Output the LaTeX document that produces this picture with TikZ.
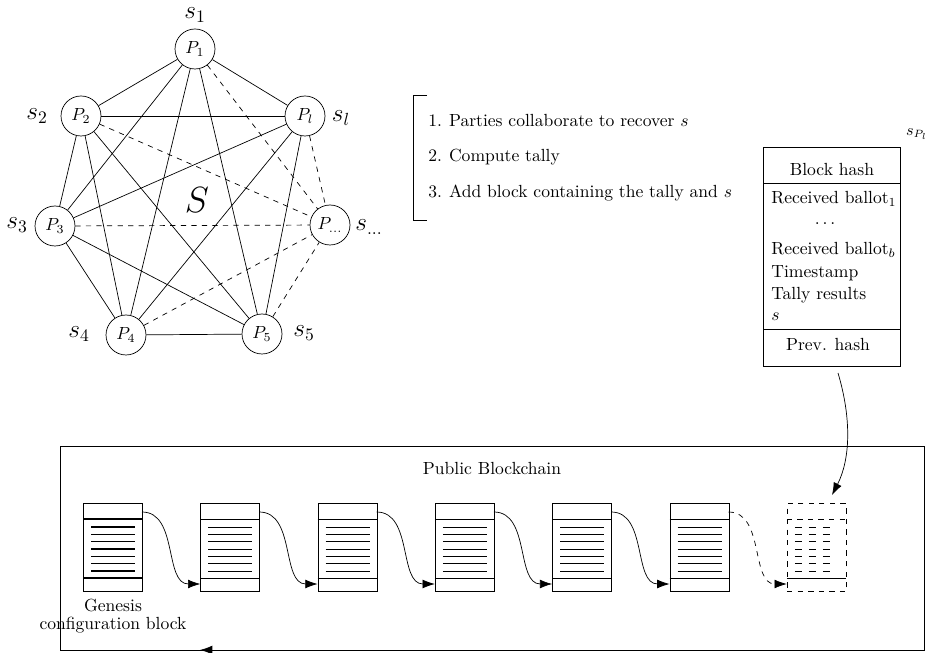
\documentclass[tikz,border=0pt]{standalone}
\usetikzlibrary{arrows.meta}
\begin{document}
\begin{tikzpicture}[x = 0.02cm, y = 0.02cm,
        party/.style = {draw, circle, minimum size = 0.8cm, inner sep = 0pt},
        share/.style = {font = \Large},
        entry/.style = {anchor = west, inner sep = 0pt},
        chainblock/.style = {draw, anchor = south west, minimum width = 1.18cm, minimum height = 1.76cm, inner sep = 0pt},
        link/.style = {-{Latex[length = 7pt, width = 5pt]}}]
    \useasboundingbox (0,0) rectangle (935,652);
    % parties holding the shares
    \node [party] (p1) at (195,603) {$P_1$};
    \node [party] (p2) at (81,536) {$P_2$};
    \node [party] (pl) at (305,536) {$P_l$};
    \node [party] (p3) at (55,426) {$P_3$};
    \node [party] (pd) at (330,427) {$P_{\ldots}$};
    \node [party] (p4) at (126,317) {$P_4$};
    \node [party] (p5) at (262,318) {$P_5$};
    \node [share] (s1) at (195,637) {$s_1$};
    \node [share] (s2) at (37,536) {$s_2$};
    \node [share] (sl) at (341,534) {$s_l$};
    \node [share] (s3) at (17,427) {$s_3$};
    \node [share] (sd) at (369,425) {$s_{\ldots}$};
    \node [share] (s4) at (79,318) {$s_4$};
    \node [share] (s5) at (304,319) {$s_5$};
    \node [font = \huge] (secret) at (197,452) {$S$};
    \foreach \a/\b in {p1/p2, p1/pl, p1/p3, p1/p4, p1/p5, p2/pl, p2/p3, p2/p4, p2/p5,
                       pl/p3, pl/p4, pl/p5, p3/p4, p3/p5, p4/p5}
        \draw (\a) -- (\b);
    \foreach \a in {p1, p2, pl, p3, p4, p5}
        \draw [dashed] (\a) -- (pd);
    % steps
    \node [entry] (step1) at (428,531) {1.\hspace{4pt}Parties collaborate to recover $s$};
    \node [entry] (step2) at (428,495) {2.\hspace{4pt}Compute tally};
    \node [entry] (step3) at (428,459) {3.\hspace{4pt}Add block containing the tally and $s$};
    \draw (427,557) -- (413,557) -- (413,432) -- (427,432);
    % new block
    \node [draw, minimum width = 2.74cm, minimum height = 4.38cm, inner sep = 0pt] (newblk) at (831.5,395.5) {};
    \draw (763,469) -- (900,469);
    \draw (763,323) -- (900,323);
    \node (hdr) at (832,482) {Block hash};
    \node [entry] (ballot1) at (771,453) {Received ballot$_1$};
    \node (dots) at (825,428) {$\ldots$};
    \node [entry] (ballotb) at (771,402) {Received ballot$_b$};
    \node [entry] (stamp) at (771,379) {Timestamp};
    \node [entry] (tally) at (771,357) {Tally results};
    \node [entry] (lasts) at (771,335) {$s$};
    \node (prev) at (828,307) {Prev. hash};
    \node [font = \small] (owner) at (917,518) {$s_{P_l}$};
    % public blockchain
    \draw (60,2) rectangle (924,206);
    \node (chainlabel) at (492,183) {Public Blockchain};
    \foreach \i/\lw in {0/thick, 1/thin, 2/thin, 3/thin, 4/thin, 5/thin} {
        \pgfmathsetmacro{\bx}{83+117.3*\i}
        \begin{scope}[\lw]
            \node [chainblock] (b\i) at (\bx,60) {};
            \draw (\bx,133) -- ++(59,0);
            \draw (\bx,74) -- ++(59,0);
            \foreach \k in {0,...,6}
                \draw (\bx+8,125-7.33*\k) -- ++(44,0);
        \end{scope}
        \coordinate (h\i) at (\bx+59,140);
        \coordinate (f\i) at (\bx,68);
    }
    \node [chainblock, dashed] (b6) at (786.8,60) {};
    \draw [dashed] (786.8,133) -- ++(59,0);
    \draw (786.8,74) -- ++(59,0);
    \foreach \k in {0,...,6}
        \draw [dash pattern = on 4pt off 4pt] (794.8,125-7.33*\k) -- ++(40,0);
    \coordinate (f6) at (786.8,68);
    \node [align = center] (genlabel) at (113,36) {Genesis\\[-2pt]configuration block};
    \foreach \i/\j in {0/1, 1/2, 2/3, 3/4, 4/5}
        \draw [link] (h\i) to [out = 0, in = 180] (f\j);
    \draw [link, dashed] (h5) to [out = 0, in = 180] (f6);
    \coordinate (dropstart) at (838,279);
    \coordinate (dropend) at (832,157);
    \draw [link] (dropstart) .. controls (852,232) and (850,192) .. (dropend);
    \coordinate (backstart) at (214,2);
    \coordinate (backend) at (200,2);
    \draw [link] (backstart) -- (backend);
\end{tikzpicture}
\end{document}
